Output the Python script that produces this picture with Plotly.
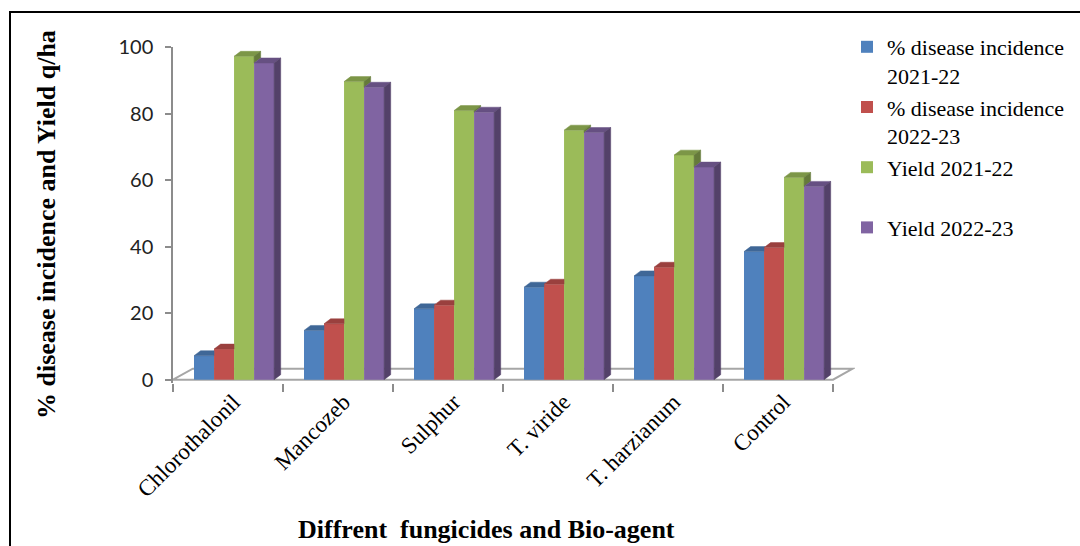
import plotly.graph_objects as go

# ---- data -------------------------------------------------------------
categories = ["Chlorothalonil", "Mancozeb", "Sulphur", "T. viride", "T. harzianum", "Control"]
incidence_2021_22 = [7.2, 14.8, 21.3, 27.8, 31.2, 38.5]
incidence_2022_23 = [9.2, 16.8, 22.4, 28.7, 33.8, 39.7]
yield_2021_22 = [97.2, 89.6, 80.9, 75.0, 67.5, 60.8]
yield_2022_23 = [95.2, 87.9, 80.4, 74.3, 63.9, 58.1]
series_names = ["% disease incidence<br>2021-22", "% disease incidence<br>2022-23",
                "Yield 2021-22<br> ", "Yield 2022-23"]
y_ticks = [0, 20, 40, 60, 80, 100]

series_values = [incidence_2021_22, incidence_2022_23, yield_2021_22, yield_2022_23]

# ---- styling ------------------------------------------------------------
front_colors = ["#4F81BD", "#C0504D", "#9BBB59", "#8064A2"]
top_colors = ["#3F6797", "#9A403E", "#7C9647", "#665082"]
side_colors = ["#33547B", "#7D3432", "#657A3A", "#534169"]

BAR_W = 0.182          # width of one column (category units)
GROUP_LEFT = -0.309    # left edge of the first column relative to the category centre
DEPTH_X, DEPTH_Y = 0.06, 1.5     # pseudo-3D depth of each column
FLOOR_DX, FLOOR_DY = 0.18, 3.3   # pseudo-3D depth of the floor
LABEL_SHIFT = 0.05

n = len(categories)
X_RANGE = [-0.5, n - 0.5 + FLOOR_DX + 0.02]
Y_RANGE = [-1, 100]

# plot-area geometry in pixels (used for paper-coordinate helpers)
W, H = 1080, 546
M_L, M_R, M_T, M_B = 173, 225, 47, 163
PW, PH = W - M_L - M_R, H - M_T - M_B


def px_x(p):
    return (p - M_L) / PW


def px_y(p):
    return (H - M_B - p) / PH


fig = go.Figure()

# front faces of the columns
for k, (name, vals) in enumerate(zip(series_names, series_values)):
    fig.add_trace(go.Bar(
        x=list(range(n)), y=vals, name=name,
        width=BAR_W, offset=GROUP_LEFT + k * BAR_W,
        marker=dict(color=front_colors[k], line=dict(width=0)),
        legendgroup=f"g{k}", hoverinfo="skip",
    ))

# top and side faces, hidden where the neighbouring column covers them
for k, vals in enumerate(series_values):
    tops_x, tops_y, sides_x, sides_y = [], [], [], []
    for i in range(n):
        v = vals[i]
        left = i + GROUP_LEFT + k * BAR_W
        right = left + BAR_W
        nxt = series_values[k + 1][i] if k + 1 < len(series_values) else None

        c = 0.0 if nxt is None else max(0.0, min(nxt - v, DEPTH_Y))
        t = (DEPTH_Y - c) / DEPTH_Y
        tops_x += [left, right, right, right + DEPTH_X * t, left + DEPTH_X, left, None]
        tops_y += [v, v, v + c, v + DEPTH_Y, v + DEPTH_Y, v, None]

        base = 0.0 if nxt is None else nxt
        if v > base:
            sides_x += [right, right, right + DEPTH_X, right + DEPTH_X, right, None]
            sides_y += [base, v, v + DEPTH_Y, base + DEPTH_Y, base, None]

    fig.add_trace(go.Scatter(
        x=tops_x, y=tops_y, mode="lines", fill="toself",
        fillcolor=top_colors[k], line=dict(color=top_colors[k], width=0.5),
        showlegend=False, hoverinfo="skip",
    ))
    fig.add_trace(go.Scatter(
        x=sides_x, y=sides_y, mode="lines", fill="toself",
        fillcolor=side_colors[k], line=dict(color=side_colors[k], width=0.5),
        showlegend=False, hoverinfo="skip",
    ))

# floor of the 3-D plot area
x0, x1 = -0.5, n - 0.5
floor_path = (f"M {x0},0 L {x1},0 L {x1 + FLOOR_DX},{FLOOR_DY} "
              f"L {x0 + FLOOR_DX},{FLOOR_DY} Z")
shapes = [
    dict(type="path", path=floor_path, xref="x", yref="y", layer="below",
         line=dict(color="#A6A6A6", width=2), fillcolor="white"),
    # outer frame
    dict(type="rect", xref="paper", yref="paper",
         x0=px_x(10), x1=px_x(1095), y0=px_y(560), y1=px_y(12),
         line=dict(color="black", width=2), fillcolor="rgba(0,0,0,0)", layer="above"),
]

annotations = [
    dict(text="<b>Diffrent  fungicides and Bio-agent</b>", xref="paper", yref="paper",
         x=px_x(486), y=px_y(529), xanchor="center", yanchor="middle", showarrow=False,
         font=dict(family="Liberation Serif", size=26, color="black")),
    dict(text="<b>% disease incidence and Yield q/ha</b>", xref="paper", yref="paper",
         x=px_x(46), y=px_y(225), xanchor="center", yanchor="middle", showarrow=False,
         textangle=-90, font=dict(family="Liberation Serif", size=26, color="black")),
]

fig.update_layout(
    width=W, height=H,
    margin=dict(l=M_L, r=M_R, t=M_T, b=M_B, autoexpand=False),
    paper_bgcolor="white", plot_bgcolor="white",
    barmode="overlay", showlegend=True,
    shapes=shapes, annotations=annotations,
    legend=dict(
        x=px_x(847), y=px_y(26), xanchor="left", yanchor="top",
        font=dict(family="Liberation Serif", size=22, color="black"),
        bgcolor="rgba(0,0,0,0)", borderwidth=0, tracegroupgap=6,
        traceorder="normal", valign="top",
    ),
    xaxis=dict(
        range=X_RANGE, showgrid=False, zeroline=False, showline=False,
        tickmode="array", tickvals=[i + LABEL_SHIFT for i in range(n)], ticktext=categories,
        tickangle=-45, ticks="", ticklen=0,
        tickfont=dict(family="Liberation Serif", size=23, color="black"),
        minor=dict(tickmode="array", tickvals=[i - 0.5 for i in range(n + 1)],
                   ticks="outside", ticklen=8, tickcolor="#8C8C8C", tickwidth=1.5),
        automargin=False,
    ),
    yaxis=dict(
        range=Y_RANGE, showgrid=False, zeroline=False,
        showline=True, linecolor="#8C8C8C", linewidth=1.5,
        tickmode="array", tickvals=y_ticks,
        ticks="outside", ticklen=6, tickcolor="#8C8C8C", tickwidth=1.5,
        tickfont=dict(family="Lato", size=20, color="#222222"),
        ticklabelstandoff=8, automargin=False,
    ),
)

fig.write_html("out.html")
